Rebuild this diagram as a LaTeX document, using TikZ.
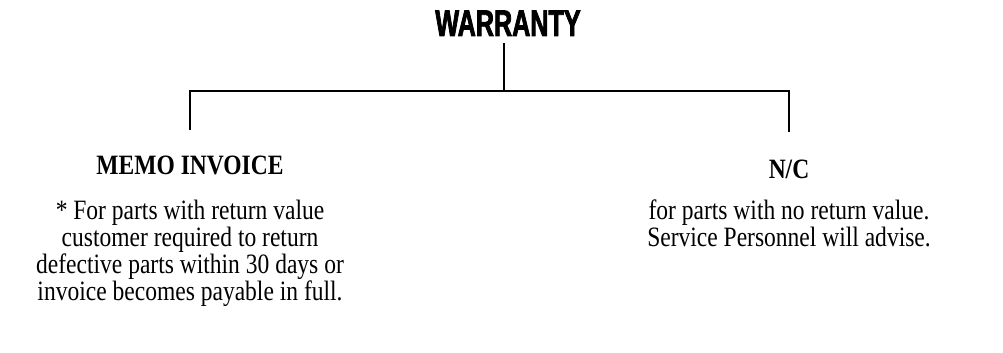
\documentclass[tikz,border=0pt]{standalone}
\usepackage{fontspec}
\setmainfont[FakeStretch=0.84]{Liberation Serif}
\newfontfamily\headfont[FakeStretch=0.68,FakeBold=2]{Liberation Sans}
\usetikzlibrary{calc}
\tikzstyle{heading}=[inner sep=0pt,font=\headfont\bfseries\fontsize{37}{38}\selectfont]
\tikzstyle{branchlabel}=[inner sep=0pt,font=\bfseries\fontsize{28}{27}\selectfont]
\tikzstyle{note}=[inner sep=0pt,align=center,anchor=north,font=\fontsize{28}{27}\selectfont]
\tikzstyle{branch}=[line width=2.7pt]

\begin{document}
\begin{tikzpicture}[x=1pt,y=1pt]
    \useasboundingbox (0,0) rectangle (1003,-353);

    \node[heading,anchor=base] (warranty) at (508,-36) {WARRANTY};

    \coordinate (split) at (504,-91);
    \coordinate (lend) at (190,-130);
    \coordinate (rend) at (789,-132);

    \draw[branch,shorten <=7pt] (warranty.south -| split) -- (split);
    \draw[branch] (lend) |- (split) -- (split -| rend) -- (rend);

    \node[branchlabel,anchor=base] (memo) at (190,-174) {MEMO INVOICE};
    \node[branchlabel,anchor=base] (nc) at (789,-178) {N/C};

    \node[note] (memotext) at (190,-200) {* For parts with return value\\customer required to return\\defective parts within 30 days or\\invoice becomes payable in full.};
    \node[note] (nctext) at (789,-200) {for parts with no return value.\\Service Personnel will advise.};
\end{tikzpicture}
\end{document}
